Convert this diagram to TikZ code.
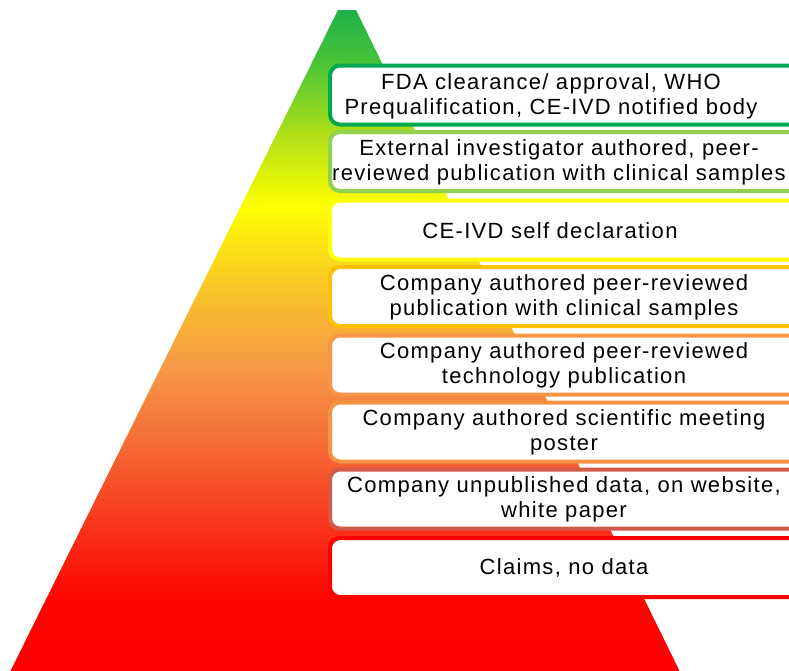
\documentclass[tikz,border=0pt]{standalone}
\usepackage{fontspec}
\setmainfont{Liberation Sans}[LetterSpace=6]
\definecolor{s0}{RGB}{30,177,75}
\definecolor{s1}{RGB}{70,195,55}
\definecolor{s2}{RGB}{170,222,25}
\definecolor{s3}{RGB}{255,255,0}
\definecolor{s4}{RGB}{248,196,40}
\definecolor{s5}{RGB}{246,154,70}
\definecolor{s6}{RGB}{245,110,55}
\definecolor{s7}{RGB}{248,55,30}
\definecolor{s8}{RGB}{254,5,0}
\definecolor{s9}{RGB}{255,0,0}
\definecolor{c1}{RGB}{0,168,80}
\definecolor{c2}{RGB}{146,208,80}
\definecolor{c3}{RGB}{255,255,0}
\definecolor{c4}{RGB}{255,192,0}
\definecolor{c5}{RGB}{247,150,70}
\definecolor{c6}{RGB}{246,146,68}
\definecolor{c7}{RGB}{210,90,75}
\definecolor{c8}{RGB}{255,0,0}
\tikzset{
  box/.style={rectangle, rounded corners=7.5pt, fill=white, line width=3pt,
    minimum width=352.5pt, minimum height=44.25pt, inner sep=0pt},
  lbl/.style={align=center, inner sep=0pt, font=\fontsize{16.5}{18.75}\selectfont}
}
\begin{document}
\begin{tikzpicture}[x=0.75pt,y=-0.75pt]
\useasboundingbox (0,0) rectangle (789,671);
\clip (0,0) rectangle (789,671);
\begin{scope}
\clip (338,10) -- (356,10) -- (680,672) -- (10,672) -- cycle;
\shade[top color=s0,bottom color=s1] (0,9) rectangle (789,60.5);
\shade[top color=s1,bottom color=s2] (0,60) rectangle (789,130.5);
\shade[top color=s2,bottom color=s3] (0,130) rectangle (789,205.5);
\shade[top color=s3,bottom color=s4] (0,205) rectangle (789,290.5);
\shade[top color=s4,bottom color=s5] (0,290) rectangle (789,365.5);
\shade[top color=s5,bottom color=s6] (0,365) rectangle (789,440.5);
\shade[top color=s6,bottom color=s7] (0,440) rectangle (789,520.5);
\shade[top color=s7,bottom color=s8] (0,520) rectangle (789,600.5);
\shade[top color=s8,bottom color=s9] (0,600) rectangle (789,672);
\end{scope}
\node[box,draw=c1] (b1) at (565,95) {};
\node[box,draw=c2] (b2) at (565,161.5) {};
\node[box,draw=c3] (b3) at (565,230) {};
\node[box,draw=c4] (b4) at (565,296.5) {};
\node[box,draw=c5] (b5) at (565,365) {};
\node[box,draw=c6] (b6) at (565,432) {};
\node[box,draw=c7] (b7) at (565,499) {};
\node[box,draw=c8] (b8) at (565,567.5) {};
\node[lbl] (t1) at (551,96) {FDA clearance/ approval, WHO\\Prequalification, CE-IVD notified body};
\node[lbl] (t2) at (559,162.5) {External investigator authored, peer-\\reviewed publication with clinical samples};
\node[lbl] (t3) at (550,231) {CE-IVD self declaration};
\node[lbl] (t4) at (564,297.5) {Company authored peer-reviewed\\publication with clinical samples};
\node[lbl] (t5) at (564,365.5) {Company authored peer-reviewed\\technology publication};
\node[lbl] (t6) at (564,432.5) {Company authored scientific meeting\\poster};
\node[lbl] (t7) at (564,499.5) {Company unpublished data, on website,\\white paper};
\node[lbl] (t8) at (564,568) {Claims, no data};
\end{tikzpicture}
\end{document}
